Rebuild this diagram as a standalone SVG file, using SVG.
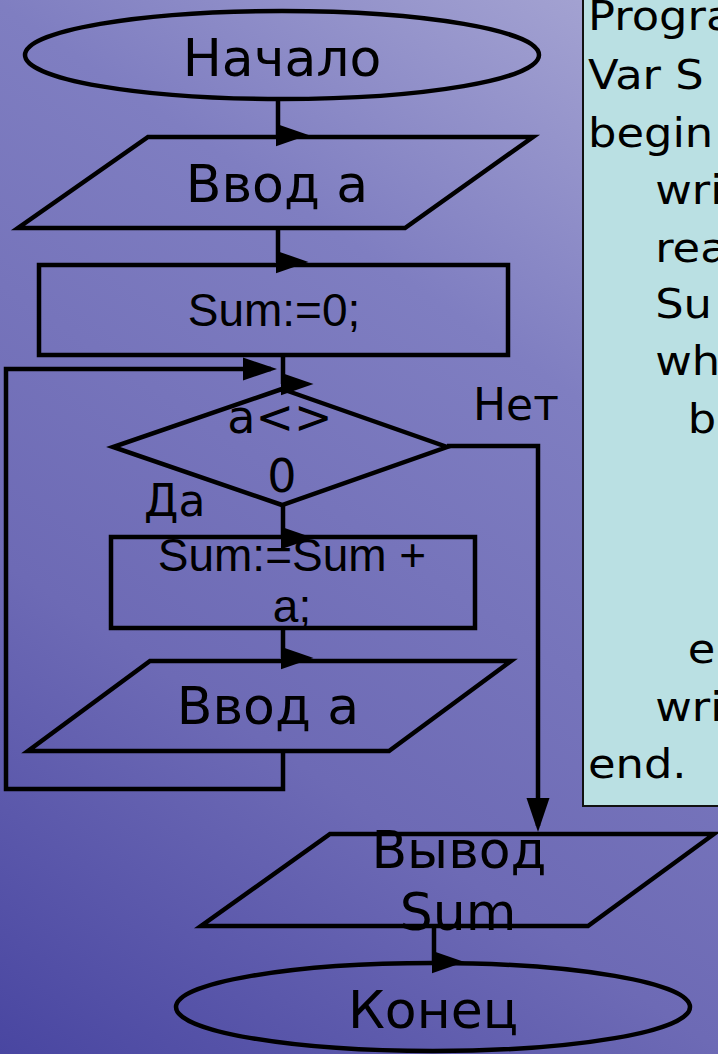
<svg xmlns="http://www.w3.org/2000/svg" width="718" height="1054" viewBox="0 0 718 1054">
<defs>
<linearGradient id="bg" gradientUnits="userSpaceOnUse" x1="718" y1="0" x2="0" y2="1054">
<stop offset="0" stop-color="#AAA9D5"/>
<stop offset="0.08" stop-color="#A09FD0"/>
<stop offset="0.32" stop-color="#7F7EC1"/>
<stop offset="0.68" stop-color="#6D6AB5"/>
<stop offset="1" stop-color="#4946A1"/>
</linearGradient>
<marker id="g" markerUnits="userSpaceOnUse" viewBox="0 -12 34 24" markerWidth="34" markerHeight="24" refX="2.5" refY="0" orient="0">
<path d="M0,-11.5 L33,0 L0,11.5 Z" fill="#000"/>
</marker>
<marker id="ar" markerUnits="userSpaceOnUse" viewBox="0 -12 34 24" markerWidth="34" markerHeight="24" refX="28" refY="0" orient="auto">
<path d="M0,-11.5 L34,0 L0,11.5 Z" fill="#000"/>
</marker>
</defs>
<style>
.s{fill:none;stroke:#000;stroke-width:4.5;stroke-linejoin:miter}
.c{fill:none;stroke:#000;stroke-width:4.5}
.d{font-family:"DejaVu Sans",sans-serif;fill:#000}
.l{font-family:"Liberation Sans",Arial,sans-serif;fill:#000}
.m{text-anchor:middle}
</style>
<rect x="0" y="0" width="718" height="1054" fill="url(#bg)"/>

<g id="code">
<rect x="583" y="-10" width="150" height="816" fill="#BAE0E3" stroke="#111" stroke-width="2"/>
<g class="d" font-size="40" transform="translate(588,0) scale(1.12,1)">
<text x="0" y="30">Progra</text>
<text x="0" y="89">Var S</text>
<text x="0" y="147">begin</text>
<text x="60" y="204">wri</text>
<text x="60" y="262">rea</text>
<text x="60" y="318">Su</text>
<text x="60" y="375">wh</text>
<text x="89" y="433">b</text>
<text x="89" y="663">e</text>
<text x="60" y="721">wri</text>
<text x="0" y="778">end.</text>
</g>
</g>

<g id="connectors">
<path class="c" d="M278,100 V135" marker-end="url(#g)"/>
<path class="c" d="M278,228 V262" marker-end="url(#g)"/>
<path class="c" d="M283,355 V384" marker-end="url(#g)"/>
<path class="c" d="M283,505 V538" marker-end="url(#g)"/>
<path class="c" d="M283,628 V658" marker-end="url(#g)"/>
<path class="c" d="M434,926 V962" marker-end="url(#g)"/>
<path class="c" d="M283,751 V789 H6 V369 H271" marker-end="url(#ar)"/>
<path class="c" d="M447,446 H538 V826" marker-end="url(#ar)"/>
</g>

<g id="start">
<ellipse class="s" cx="282" cy="55" rx="257" ry="44"/>
<text class="d m" x="282" y="76" font-size="52">Начало</text>
</g>

<g id="input1">
<polygon class="s" points="148,137 533,137 405,228 18,228"/>
<text class="d m" x="277" y="202" font-size="52">Ввод а</text>
</g>

<g id="init">
<rect class="s" x="39" y="265" width="469" height="90"/>
<text class="l m" x="274" y="326" font-size="46">Sum:=0;</text>
</g>

<g id="cond">
<polygon class="s" points="282,389 447,447 282,505 113,447"/>
<text class="d m" x="280" y="433" font-size="46">a&lt;&gt;</text>
<text class="d m" x="282" y="492" font-size="46">0</text>
<text class="d" x="144" y="516" font-size="44">Да</text>
<text class="d" x="473" y="420" font-size="44">Нет</text>
</g>

<g id="body">
<rect class="s" x="111" y="537" width="364" height="91"/>
<text class="l m" x="292" y="571" font-size="46">Sum:=Sum +</text>
<text class="l m" x="292" y="622" font-size="46">a;</text>
</g>

<g id="input2">
<polygon class="s" points="150,661 511,661 389,751 28,751"/>
<text class="d m" x="268" y="724" font-size="52">Ввод а</text>
</g>

<g id="output">
<polygon class="s" points="330,834 714,834 588,926 201,926"/>
<text class="d m" x="459" y="868" font-size="52">Вывод</text>
<text class="d m" x="458" y="930" font-size="52">Sum</text>
</g>

<g id="end">
<ellipse class="s" cx="433" cy="1007" rx="257" ry="44"/>
<text class="d m" x="433" y="1028" font-size="52">Конец</text>
</g>
</svg>
